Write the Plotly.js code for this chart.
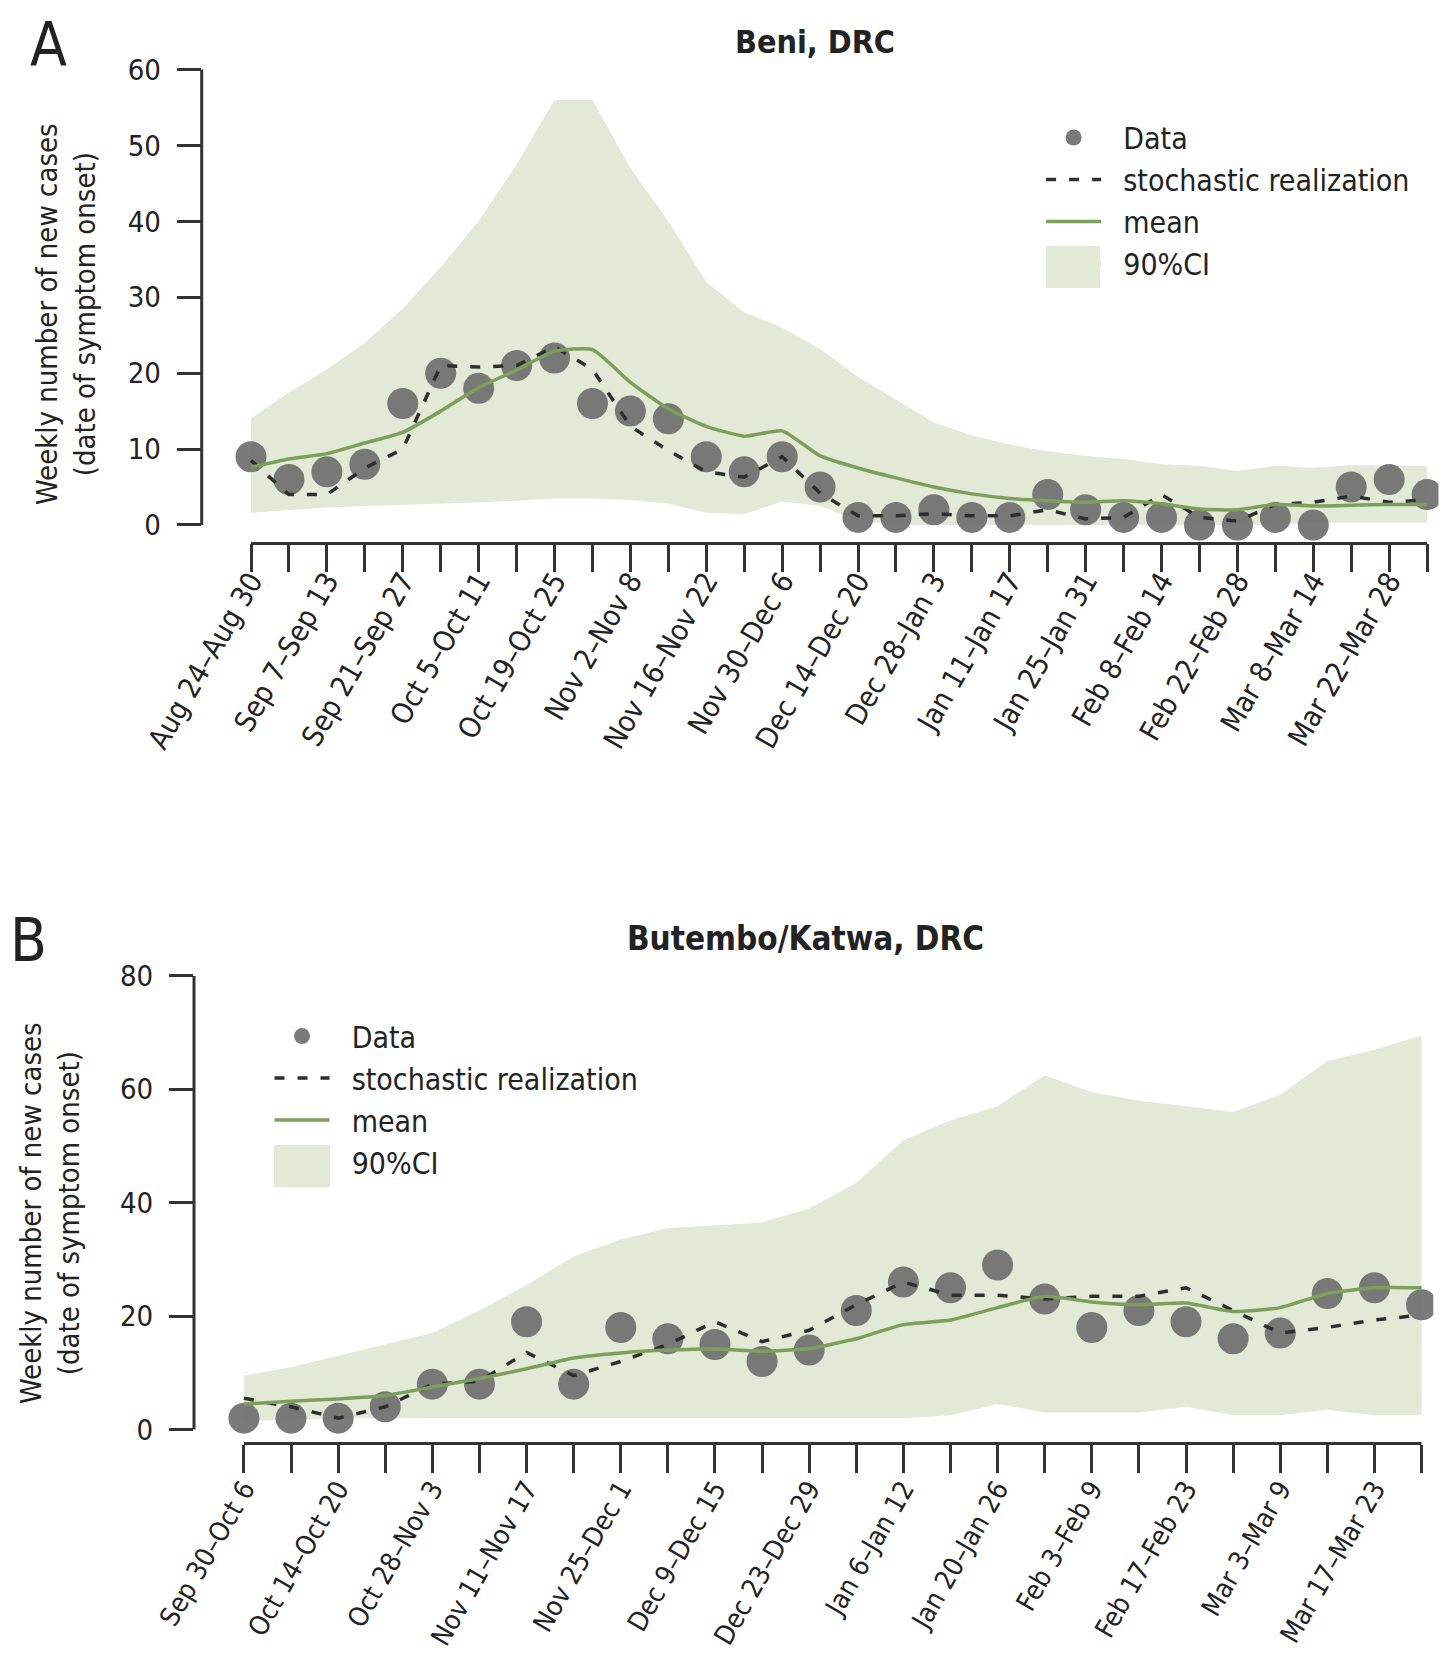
<!DOCTYPE html>
<html>
<head>
<meta charset="utf-8">
<script src="https://cdn.plot.ly/plotly-3.0.1.min.js"></script>
<style>
  html, body { margin: 0; padding: 0; background: #ffffff; }
  #chart { width: 1449px; height: 1664px; }
</style>
</head>
<body>
<div id="chart"></div>
<script>
// ---------- Panel A: Beni, DRC (weekly, Aug 24 -> Mar 29) ----------
const labelsA = ["Aug 24\u2013Aug 30","Sep 7\u2013Sep 13","Sep 21\u2013Sep 27","Oct 5\u2013Oct 11",
  "Oct 19\u2013Oct 25","Nov 2\u2013Nov 8","Nov 16\u2013Nov 22","Nov 30\u2013Dec 6",
  "Dec 14\u2013Dec 20","Dec 28\u2013Jan 3","Jan 11\u2013Jan 17","Jan 25\u2013Jan 31",
  "Feb 8\u2013Feb 14","Feb 22\u2013Feb 28","Mar 8\u2013Mar 14","Mar 22\u2013Mar 28"];
const dataA  = [9,6,7,8,16,20,18,21,22,16,15,14,9,7,9,5,1,1,2,1,1,4,2,1,1,0,0,1,0,5,6,4];
const stochA = [8.5,4,4,7.5,10,21,20.8,21,23.5,20.5,13,9.8,7,6.3,9,4.2,1.2,1.2,1.5,1.2,1.2,2,0.8,1,4,1,0.5,2.7,3,3.8,3,3.3];
const meanA  = [7.6,8.7,9.4,10.8,12.2,15,18.1,20.4,22.9,23.1,18.8,15.3,13,11.7,12.4,9.1,7.5,6.2,5,4.1,3.5,3.2,3,3.2,2.8,2.1,2,2.7,2.5,2.6,2.7,2.7];
const upperA = [14,17.5,20.5,24,28.5,34,40,47.5,56,56,47,40,32,28,26,23.2,19.5,16.5,13.5,11.8,10.6,9.7,9.1,8.7,8,7.8,7.1,7.8,7.5,7.9,7.8,7.8];
const lowerA = [1.6,2,2.3,2.5,2.6,2.8,3,3.2,3.5,3.5,3.3,2.8,1.6,1.4,3.1,2.5,0.6,0,0,0,0,0,0,0,0,0,0,0,0.3,0.3,0.3,0.3];
const yTicksA = [0,10,20,30,40,50,60];

// ---------- Panel B: Butembo/Katwa, DRC (weekly, Sep 30 -> Mar 30) ----------
const labelsB = ["Sep 30\u2013Oct 6","Oct 14\u2013Oct 20","Oct 28\u2013Nov 3","Nov 11\u2013Nov 17",
  "Nov 25\u2013Dec 1","Dec 9\u2013Dec 15","Dec 23\u2013Dec 29","Jan 6\u2013Jan 12",
  "Jan 20\u2013Jan 26","Feb 3\u2013Feb 9","Feb 17\u2013Feb 23","Mar 3\u2013Mar 9","Mar 17\u2013Mar 23"];
const dataB  = [2,2,2,4,8,8,19,8,18,16,15,12,14,21,26,25,29,23,18,21,19,16,17,24,25,22];
const stochB = [5.5,4,2,4,8,8.5,13.6,9.5,12,15,19,15.5,17.5,22,26,23.7,23.7,23,23.5,23.5,25,21,17,18,19.3,20.2];
const meanB  = [4.5,5,5.4,6,7.5,9,10.7,12.6,13.5,14,14.2,13.8,14.3,16,18.5,19.3,21.5,23.5,22.5,22,22.3,20.8,21.5,24,25,25];
const upperB = [9.5,11,13,15,17,21,25.5,30.5,33.5,35.5,36,36.5,39,43.5,51,54.5,57,62.5,59.5,58,57,56,59,65,67,69.5];
const lowerB = [1.5,1.8,2,2,2,2,2,2,2,2,2,2,2,2,2,2.5,4.5,3,3,3,4,2.5,2.5,3.5,2.5,2.5];
const yTicksB = [0,20,40,60,80];

const legendNames = ["Data", "stochastic realization", "mean", "90%CI"];

// ---------- styling ----------
const FONT = "DejaVu Sans Condensed, DejaVu Sans, sans-serif";
const AX = "#333333";
const TXT = "#222222";
const BAND = "#e2e9d6";
const MEAN = "#7c9f5b";
const DOT = "rgba(112,112,112,0.93)";
const STOCH = "#2e2e2e";
const PAD = "\u00a0\u00a0";

const weeksA = dataA.map((_, i) => i);
const weeksB = dataB.map((_, i) => i);
const tickTextA = weeksA.map(i => (i % 2 === 0 && labelsA[i / 2]) ? labelsA[i / 2] : "");
const tickTextB = weeksB.map(i => (i % 2 === 0 && labelsB[i / 2]) ? labelsB[i / 2] : "");

function panelTraces(x, lower, upper, data, stoch, mean, xa, ya, lg) {
  return [
    {x: x, y: lower, xaxis: xa, yaxis: ya, type: "scatter", mode: "lines",
     line: {width: 0, color: BAND}, showlegend: false, hoverinfo: "skip"},
    {x: x, y: upper, xaxis: xa, yaxis: ya, type: "scatter", mode: "lines",
     line: {width: 0, color: BAND}, fill: "tonexty", fillcolor: BAND,
     name: PAD + legendNames[3], legend: lg, legendrank: 4, showlegend: true},
    {x: x, y: data, xaxis: xa, yaxis: ya, type: "scatter", mode: "markers",
     marker: {size: 31, color: DOT, line: {width: 0}},
     name: PAD + legendNames[0], legend: lg, legendrank: 1},
    {x: x, y: stoch, xaxis: xa, yaxis: ya, type: "scatter", mode: "lines",
     line: {color: STOCH, width: 3.5, dash: "10px,13px"},
     name: PAD + legendNames[1], legend: lg, legendrank: 2},
    {x: x, y: mean, xaxis: xa, yaxis: ya, type: "scatter", mode: "lines",
     line: {color: MEAN, width: 3.5, shape: "spline", smoothing: 0.5},
     name: PAD + legendNames[2], legend: lg, legendrank: 3}
  ];
}

const traces = []
  .concat(panelTraces(weeksA, lowerA, upperA, dataA, stochA, meanA, "x", "y", "legend"))
  .concat(panelTraces(weeksB, lowerB, upperB, dataB, stochB, meanB, "x2", "y2", "legend2"));

function xAxis(domain, range, weeks, text, anchor, fs, standoff) {
  return {
    domain: domain, range: range, anchor: anchor,
    tickmode: "array", tickvals: weeks, ticktext: text,
    ticks: "outside", ticklen: 28, tickwidth: 3, tickcolor: AX,
    tickangle: -60, ticklabelstandoff: standoff,
    tickfont: {family: FONT, size: fs, color: TXT},
    showline: false, showgrid: false, zeroline: false, automargin: false, fixedrange: true
  };
}
function yAxis(domain, range, vals, anchor) {
  return {
    domain: domain, range: range, anchor: anchor,
    tickmode: "array", tickvals: vals, ticktext: vals.map(String),
    ticks: "outside", ticklen: 24, tickwidth: 3, tickcolor: AX,
    ticklabelstandoff: 10,
    tickfont: {family: FONT, size: 29, color: TXT},
    showline: false, showgrid: false, zeroline: false, automargin: false, fixedrange: true
  };
}

const legendStyle = {
  font: {family: FONT, size: 30, color: TXT},
  bgcolor: "rgba(0,0,0,0)", borderwidth: 0,
  traceorder: "normal", itemwidth: 55, itemsizing: "trace",
  xanchor: "left", yanchor: "top"
};

function label(text, xpx, ypx, size, angle) {
  return {text: text, xref: "paper", yref: "paper", x: xpx / 1449, y: 1 - ypx / 1664,
          xanchor: "center", yanchor: "middle", showarrow: false, textangle: angle || 0,
          font: {family: FONT, size: size, color: TXT}};
}
// enlarged swatch behind each legend's "90%CI" entry (legend decoration only)
function swatch(x0, y0, x1, y1) {
  return {type: "rect", xref: "paper", yref: "paper", layer: "below",
          x0: x0 / 1449, x1: x1 / 1449, y0: 1 - y0 / 1664, y1: 1 - y1 / 1664,
          fillcolor: BAND, line: {width: 0}};
}

const layout = {
  width: 1449, height: 1664,
  margin: {l: 0, r: 0, t: 0, b: 0},
  paper_bgcolor: "#ffffff", plot_bgcolor: "rgba(0,0,0,0)",
  showlegend: true,
  xaxis:  xAxis([0.13920, 0.99275], [-1.3, 31.3], weeksA, tickTextA, "y", 29, -20),
  yaxis:  yAxis([0.67338, 0.96094], [-2.44, 60.6], yTicksA, "x"),
  xaxis2: xAxis([0.13389, 0.98917], [-1.06, 25.25], weeksB, tickTextB, "y2", 27, -10),
  yaxis2: yAxis([0.13251, 0.41521], [-2.47, 80.5], yTicksB, "x2"),
  legend:  Object.assign({x: 0.7185, y: 0.9330}, legendStyle),
  legend2: Object.assign({x: 0.1860, y: 0.3930}, legendStyle),
  shapes: [
    {type: "line", xref: "x domain", x0: 0, x1: 0, yref: "y", y0: 0, y1: 60, line: {color: AX, width: 3}},
    {type: "line", xref: "x", x0: 0, x1: weeksA.length - 1, yref: "y domain", y0: 0, y1: 0, line: {color: AX, width: 3}},
    {type: "line", xref: "x2 domain", x0: 0, x1: 0, yref: "y2", y0: 0, y1: 80, line: {color: AX, width: 3}},
    {type: "line", xref: "x2", x0: 0, x1: weeksB.length - 1, yref: "y2 domain", y0: 0, y1: 0, line: {color: AX, width: 3}},
    swatch(1046, 246, 1100, 288),
    swatch(274, 1145, 330, 1187)
  ],
  annotations: [
    label("A", 48, 44, 60),
    label("B", 28, 940, 60),
    label("<b>Beni, DRC</b>", 815, 42, 32),
    label("<b>Butembo/Katwa, DRC</b>", 805, 938, 33),
    label("Weekly number of new cases<br>(date of symptom onset)", 66, 314, 29, -90),
    label("Weekly number of new cases<br>(date of symptom onset)", 50, 1213, 29, -90)
  ]
};

Plotly.newPlot("chart", traces, layout, {staticPlot: true, displayModeBar: false});
</script>
</body>
</html>
